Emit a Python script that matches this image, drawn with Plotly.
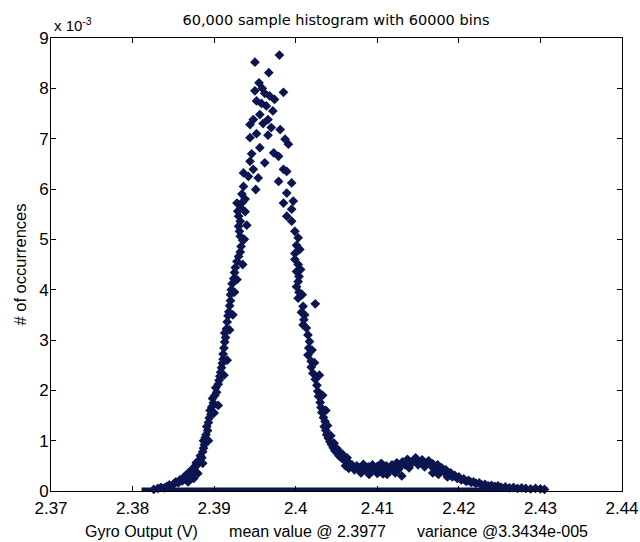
import plotly.graph_objects as go

# ---- data (y in units of 1e-3 occurrences fraction) ----
rise_x = [2.3826, 2.3831, 2.3835, 2.3839, 2.3842, 2.3845, 2.3848, 2.3851, 2.3853, 2.3856,
          2.3858, 2.3861, 2.3863, 2.3865, 2.3867, 2.3869, 2.3871, 2.3873, 2.3875, 2.3877,
          2.3878, 2.3880, 2.3882, 2.3883, 2.3885, 2.3886, 2.3887, 2.3888, 2.3887, 2.3889,
          2.3890, 2.3892, 2.3891, 2.3893, 2.3894, 2.3896, 2.3895, 2.3897, 2.3899, 2.3898,
          2.3901, 2.3903, 2.3902, 2.3905, 2.3906, 2.3907, 2.3908, 2.3909, 2.3910, 2.3911,
          2.3911, 2.3912, 2.3913, 2.3914, 2.3913, 2.3915, 2.3916, 2.3917, 2.3918, 2.3919,
          2.3920, 2.3920, 2.3921, 2.3922, 2.3924, 2.3925, 2.3926, 2.3928, 2.3930, 2.3932,
          2.3933, 2.3935, 2.3932, 2.3931, 2.3930, 2.3932, 2.3930, 2.3929, 2.3933, 2.3928,
          2.3935, 2.3938, 2.3940, 2.3938,
          2.3905, 2.3900, 2.3912, 2.3916, 2.3919, 2.3923, 2.3925, 2.3928, 2.3935, 2.3937,
          2.3893, 2.3886, 2.3880, 2.3875, 2.3868]
rise_y = [0.03, 0.05, 0.07, 0.06, 0.09, 0.12, 0.10, 0.15, 0.18, 0.16,
          0.22, 0.20, 0.27, 0.31, 0.26, 0.36, 0.40, 0.35, 0.45, 0.50,
          0.56, 0.53, 0.62, 0.70, 0.66, 0.78, 0.85, 0.92, 1.00, 1.06,
          1.12, 1.20, 1.28, 1.36, 1.45, 1.52, 1.60, 1.67, 1.75, 1.84,
          1.90, 1.96, 2.05, 2.12, 2.20, 2.28, 2.36, 2.45, 2.54, 2.62,
          2.72, 2.84, 2.96, 3.05, 3.14, 3.22, 3.36, 3.48, 3.56, 3.68,
          3.78, 3.90, 4.00, 4.12, 4.22, 4.34, 4.44, 4.56, 4.66, 4.75,
          4.86, 4.98, 5.06, 5.16, 5.26, 5.36, 5.46, 5.56, 5.62, 5.72,
          5.74, 5.55, 5.28, 5.80,
          1.70, 1.55, 2.30, 2.60, 3.20, 3.50, 3.95, 4.20, 4.50, 5.00,
          1.00, 0.55, 0.35, 0.25, 0.18]

peak_x = [2.3934, 2.3936, 2.3936, 2.3942, 2.3948, 2.3954, 2.3951, 2.3944, 2.3946, 2.3944,
          2.3956, 2.3962, 2.3944, 2.3948, 2.3952, 2.3956, 2.3952, 2.3950, 2.3959, 2.3955,
          2.3950, 2.3967, 2.3968, 2.3964, 2.3966, 2.3966, 2.3972, 2.3974, 2.3985, 2.3980,
          2.3970, 2.3981, 2.3973, 2.3979, 2.3987, 2.3991, 2.3985, 2.3989, 2.3979, 2.3995,
          2.3989, 2.3962, 2.3958, 2.3960]
peak_y = [5.90, 6.05, 6.32, 6.25, 6.39, 6.22, 5.99, 6.55, 6.70, 7.02,
          6.82, 6.52, 7.28, 7.38, 7.10, 7.48, 7.75, 7.95, 8.00, 8.11,
          8.52, 8.31, 7.85, 7.65, 7.38, 7.07, 7.55, 7.78, 7.92, 8.66,
          7.22, 7.18, 6.72, 6.65, 6.99, 6.89, 6.39, 6.35, 6.15, 6.12,
          5.92, 7.90, 7.70, 7.30]

fall_x = [2.3985, 2.3997, 2.3995, 2.3989, 2.3995, 2.3999, 2.4003, 2.4001, 2.3999, 2.3999,
          2.4003, 2.4001, 2.4004, 2.4003, 2.4001, 2.4004, 2.4003, 2.4009, 2.4024, 2.4011,
          2.4010, 2.4009, 2.4013, 2.4015, 2.4017, 2.4016, 2.4015, 2.4019, 2.4019, 2.4021,
          2.4024, 2.4026, 2.4027, 2.4028, 2.4030, 2.4031, 2.4032, 2.4034, 2.4036, 2.4035,
          2.4037, 2.4038, 2.4040, 2.4042, 2.4044, 2.4046, 2.4048, 2.4051, 2.4053, 2.4056,
          2.4059, 2.4062, 2.4066, 2.4069, 2.4039, 2.4043, 2.4047, 2.4050, 2.4054, 2.4058,
          2.4063, 2.4061, 2.4065,
          2.4008, 2.4006, 2.4005, 2.4007, 2.4020, 2.4023, 2.4029, 2.4033, 2.4037]
fall_y = [5.72, 5.76, 5.60, 5.46, 5.36, 5.16, 5.03, 4.88, 4.72, 4.60,
          4.50, 4.36, 4.26, 4.16, 4.06, 3.95, 3.83, 3.67, 3.72, 3.50,
          3.40, 3.30, 3.24, 3.10, 2.97, 2.84, 2.70, 2.58, 2.46, 2.34,
          2.22, 2.10, 1.98, 1.88, 1.76, 1.66, 1.56, 1.46, 1.38, 1.28,
          1.20, 1.12, 1.05, 0.98, 0.92, 0.86, 0.80, 0.75, 0.70, 0.66,
          0.62, 0.58, 0.55, 0.52, 1.30, 1.10, 0.95, 0.85, 0.78, 0.72,
          0.66, 0.50, 0.45,
          3.90, 4.40, 4.80, 3.55, 2.80, 2.55, 2.30, 1.90, 1.60]

tail_x = [2.4072, 2.4075, 2.4078, 2.4081, 2.4083, 2.4086, 2.4089, 2.4092, 2.4094, 2.4097,
          2.4100, 2.4103, 2.4105, 2.4108, 2.4111, 2.4113, 2.4116, 2.4118, 2.4121, 2.4124,
          2.4126, 2.4129, 2.4131, 2.4134, 2.4137, 2.4139, 2.4142, 2.4145, 2.4147, 2.4150,
          2.4153, 2.4155, 2.4158, 2.4160, 2.4163, 2.4166, 2.4168, 2.4171, 2.4174, 2.4176,
          2.4179, 2.4182, 2.4184, 2.4187, 2.4190, 2.4192, 2.4195, 2.4198, 2.4200, 2.4203,
          2.4206, 2.4209, 2.4212, 2.4215, 2.4218, 2.4221, 2.4225, 2.4228, 2.4232, 2.4236,
          2.4240, 2.4244, 2.4248, 2.4252, 2.4257, 2.4262, 2.4267, 2.4272, 2.4277, 2.4282,
          2.4288, 2.4294, 2.4300, 2.4305,
          2.4090, 2.4100, 2.4112, 2.4122, 2.4130, 2.4168, 2.4175, 2.4186, 2.4080, 2.4107]
tail_y = [0.42, 0.50, 0.46, 0.38, 0.53, 0.44, 0.48, 0.40, 0.52, 0.45,
          0.49, 0.42, 0.55, 0.47, 0.50, 0.40, 0.45, 0.52, 0.48, 0.56,
          0.43, 0.50, 0.58, 0.52, 0.63, 0.46, 0.55, 0.60, 0.66, 0.52,
          0.58, 0.62, 0.48, 0.55, 0.60, 0.50, 0.54, 0.46, 0.52, 0.42,
          0.46, 0.38, 0.42, 0.33, 0.36, 0.28, 0.31, 0.25, 0.28, 0.22,
          0.24, 0.19, 0.21, 0.17, 0.18, 0.15, 0.16, 0.12, 0.13, 0.10,
          0.11, 0.09, 0.10, 0.07, 0.08, 0.06, 0.07, 0.05, 0.06, 0.05,
          0.04, 0.05, 0.04, 0.03,
          0.33, 0.35, 0.33, 0.36, 0.30, 0.36, 0.33, 0.28, 0.36, 0.34]

# empty bins: first and last x of the band of zero-count bins
zero_x = [2.3811, 2.4309]
zero_y = [0, 0]

x_ticks = [2.37, 2.38, 2.39, 2.40, 2.41, 2.42, 2.43, 2.44]
x_tick_labels = ["2.37", "2.38", "2.39", "2.4", "2.41", "2.42", "2.43", "2.44"]
y_ticks = [0, 1, 2, 3, 4, 5, 6, 7, 8, 9]
y_tick_labels = [str(v) for v in y_ticks]

FONT = "Liberation Sans, Arial, sans-serif"
NAVY = "#0b1650"

fig = go.Figure()
fig.add_trace(go.Scatter(x=zero_x, y=zero_y, mode="lines",
                         line=dict(color="#0a1448", width=7),
                         cliponaxis=False, showlegend=False, hoverinfo="skip"))
fig.add_trace(go.Scatter(x=rise_x + peak_x + fall_x + tail_x,
                         y=rise_y + peak_y + fall_y + tail_y,
                         mode="markers",
                         marker=dict(symbol="diamond", size=7.5, color=NAVY,
                                     line=dict(width=0)),
                         cliponaxis=False, showlegend=False))

nb = "\u00a0"
xlab = "Gyro Output (V)" + nb * 7 + "mean value @ 2.3977" + nb * 7 + "variance @3.3434e-005"

fig.update_layout(
    width=640, height=542,
    margin=dict(l=51, r=18, t=38, b=51, autoexpand=False),
    paper_bgcolor="white", plot_bgcolor="white",
    font=dict(family=FONT, color="black", size=16),
    title=dict(text="60,000 sample histogram with 60000 bins",
               font=dict(family="DejaVu Sans, sans-serif", size=14.5, color="black"),
               x=0.525, xanchor="center", y=1 - 20 / 542, yanchor="middle"),
    xaxis=dict(range=[2.37, 2.44], tickvals=x_ticks, ticktext=x_tick_labels,
               ticks="inside", ticklen=5, tickcolor="black",
               showline=True, linecolor="black", linewidth=1, mirror="ticks",
               showgrid=False, zeroline=False, ticklabelstandoff=2,
               tickfont=dict(family=FONT, size=17, color="black"),
               title=dict(text=xlab, font=dict(family=FONT, size=16, color="black"),
                          standoff=8)),
    yaxis=dict(range=[0, 9], tickvals=y_ticks, ticktext=y_tick_labels,
               ticks="inside", ticklen=5, tickcolor="black",
               showline=True, linecolor="black", linewidth=1, mirror="ticks",
               showgrid=False, zeroline=False, ticklabelstandoff=-2,
               tickfont=dict(family=FONT, size=17, color="black"),
               title=dict(text="# of occurrences", font=dict(family=FONT, size=16.5, color="black"),
                          standoff=8)),
    annotations=[dict(text="x 10<sup>-3</sup>", xref="paper", yref="paper",
                      x=0, y=1, xanchor="left", yanchor="bottom", yshift=2, xshift=1,
                      showarrow=False, font=dict(family=FONT, size=15, color="black"))],
)

fig.write_html("out.html")
